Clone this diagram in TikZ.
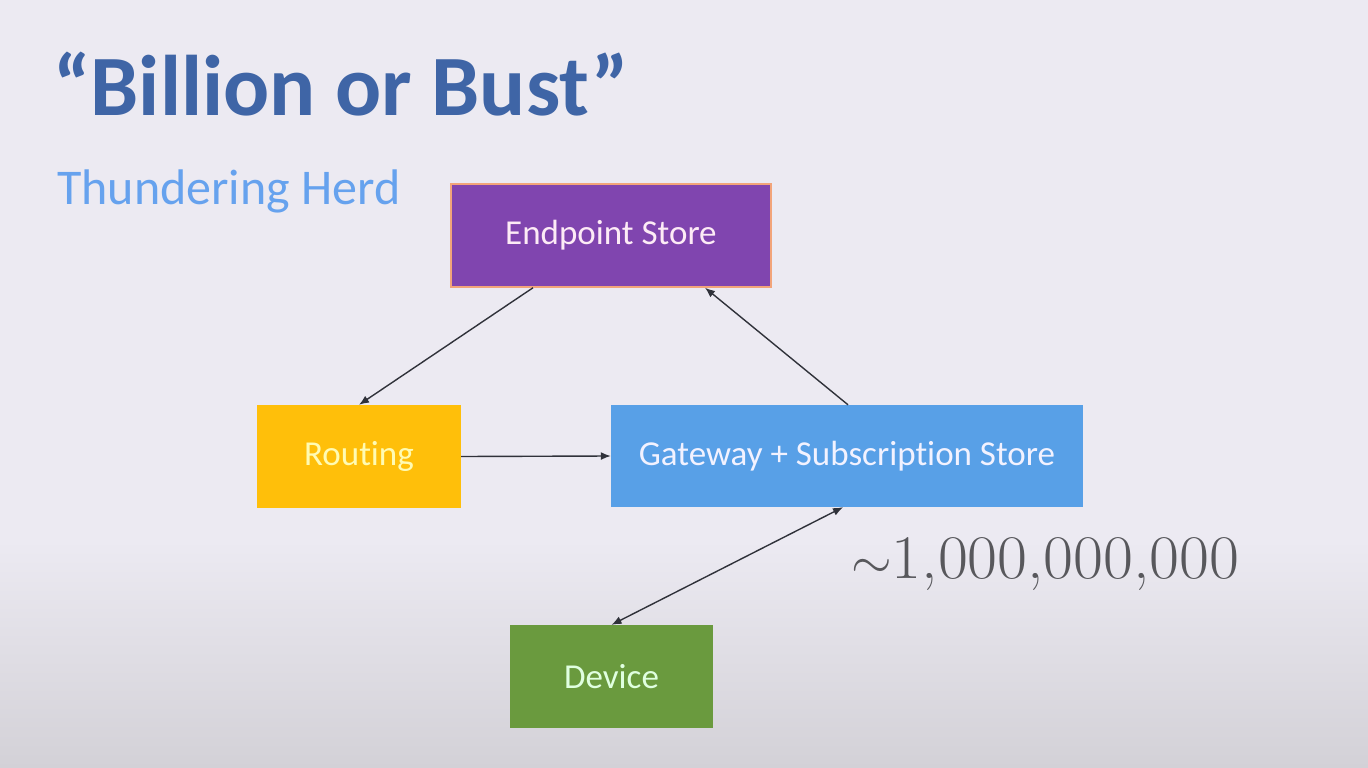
\documentclass[tikz,border=0pt]{standalone}
\usepackage{graphicx}
\usepackage{fontspec}
\setmainfont[Ligatures=NoCommon]{Carlito}
\newfontfamily\numfont{Latin Modern Roman}
\usetikzlibrary{arrows.meta}
\definecolor{bgtop}{HTML}{ECEAF2}
\definecolor{bgbot}{HTML}{D3D1D7}
\definecolor{titleblue}{HTML}{3F65A6}
\definecolor{subblue}{HTML}{66A2EE}
\definecolor{epfill}{HTML}{8045AF}
\definecolor{epedge}{HTML}{F2A47A}
\definecolor{rtfill}{HTML}{FFBF0A}
\definecolor{gwfill}{HTML}{58A0E7}
\definecolor{dvfill}{HTML}{6A9A3E}
\definecolor{linkcol}{HTML}{30323A}
\definecolor{numgrey}{HTML}{58585C}
\tikzset{
  stagebox/.style={rectangle, inner sep=0pt, font=\fontsize{35}{40}\selectfont},
  link/.style={draw=linkcol, line width=1.4pt, -{Latex[length=10pt,width=8pt]}},
  dlink/.style={draw=linkcol, line width=1.4pt, {Latex[length=10pt,width=8pt]}-{Latex[length=10pt,width=8pt]}}
}
\begin{document}
\begin{tikzpicture}[x=1pt,y=-1pt]
  % slide background
  \useasboundingbox (0,0) rectangle (1368,768);
  \fill[bgtop] (0,0) rectangle (1368,768);
  \shade[top color=bgtop, bottom color=bgbot] (0,540) rectangle (1368,768);

  % headings
  \node[anchor=base west, inner sep=0pt, text=titleblue,
        font=\fontsize{86}{96}\selectfont\bfseries] (title) at (53,115) {“Billion or Bust”};
  \node[anchor=base west, inner sep=0pt, text=subblue,
        font=\fontsize{50}{58}\selectfont] (sub) at (57,204) {Thundering Herd};

  % stages
  \node[stagebox, fill=epfill, draw=epedge, line width=1.5pt,
        minimum width=320pt, minimum height=103pt, text=white!92!magenta] (ep) at (611,235.5) {Endpoint Store};
  \node[stagebox, fill=rtfill, minimum width=204pt, minimum height=103pt,
        text=yellow!30!white] (rt) at (359,456.5) {Routing};
  \node[stagebox, fill=gwfill, minimum width=472pt, minimum height=102pt,
        text=white!95!blue] (gw) at (847,456) {Gateway + Subscription Store};
  \node[stagebox, fill=dvfill, minimum width=203pt, minimum height=103pt,
        text=white!88!green] (dv) at (611.5,676.5) {Device};

  % connection count
  \node[anchor=base west, inner sep=0pt, text=numgrey,
        font=\fontsize{62}{70}\selectfont\numfont] (cnt) at (851,578)
        {\scalebox{2.1}{$\sim$}\scalebox{1.05}[1]{1,000,000,000}};

  % links
  \draw[link] ([xshift=-78pt]ep.south) -- (rt.north);
  \draw[link] ([xshift=1pt]gw.north) -- ([xshift=94pt]ep.south);
  \draw[link] (rt.east) -- (gw.west);
  \draw[dlink] (dv.north) -- ([xshift=-4pt]gw.south);
\end{tikzpicture}
\end{document}
